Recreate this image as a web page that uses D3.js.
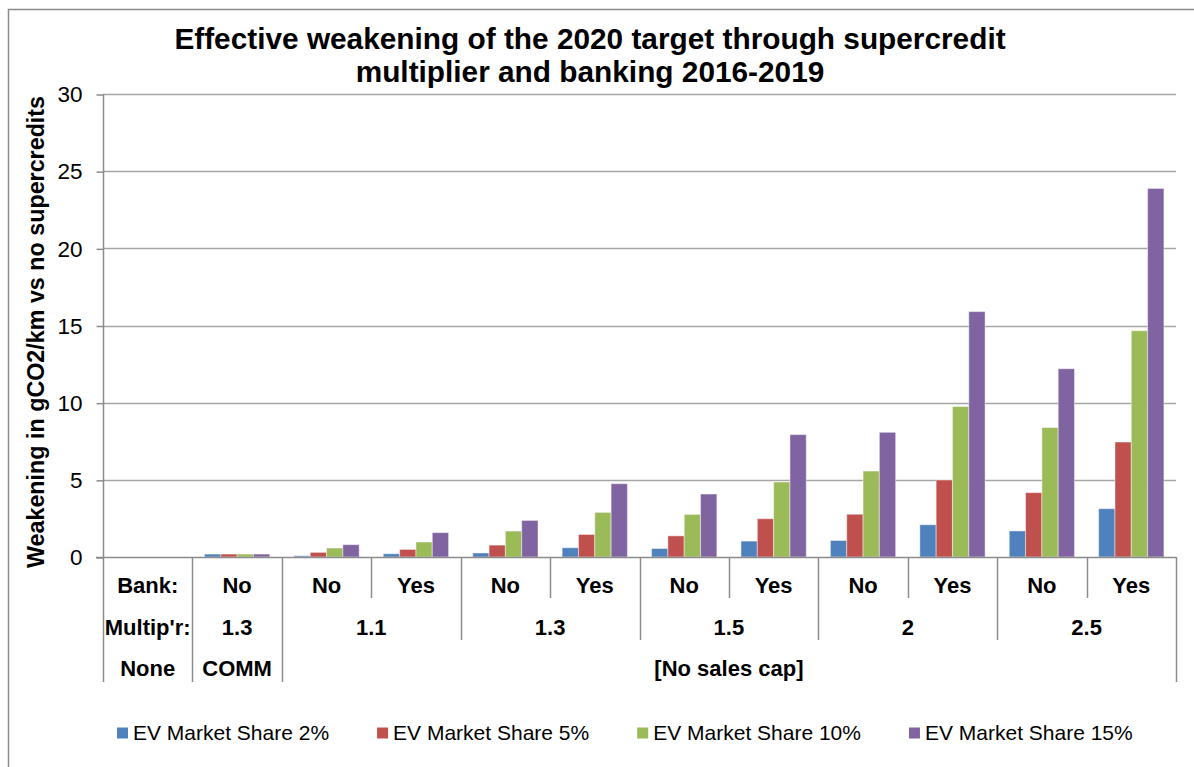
<!DOCTYPE html>
<html>
<head>
<meta charset="utf-8">
<script src="https://cdn.jsdelivr.net/npm/d3@7"></script>
<style>
  html, body { margin: 0; padding: 0; background: #fff; }
  svg { display: block; font-family: "Liberation Sans", Arial, sans-serif; }
</style>
</head>
<body>
<svg id="chart" width="1194" height="767"></svg>
<script>
// Category label tiers (innermost first)
const bankRow = ["Bank:", "No", "No", "Yes", "No", "Yes", "No", "Yes", "No", "Yes", "No", "Yes"];
const multRow = ["Multip'r:", "1.3", "1.1", "1.1", "1.3", "1.3", "1.5", "1.5", "2", "2", "2.5", "2.5"];
const capRow  = ["None", "COMM", "[No sales cap]", "[No sales cap]", "[No sales cap]", "[No sales cap]",
                 "[No sales cap]", "[No sales cap]", "[No sales cap]", "[No sales cap]", "[No sales cap]", "[No sales cap]"];

// Weakening (gCO2/km) per scenario for each EV market share
const share2  = [0, 0.19, 0.08, 0.21, 0.26, 0.60, 0.55, 1.03, 1.07, 2.09, 1.69, 3.13];
const share5  = [0, 0.19, 0.30, 0.49, 0.77, 1.46, 1.37, 2.48, 2.77, 4.99, 4.17, 7.45];
const share10 = [0, 0.19, 0.58, 0.97, 1.68, 2.89, 2.76, 4.86, 5.57, 9.75, 8.39, 14.66];
const share15 = [0, 0.19, 0.80, 1.58, 2.37, 4.75, 4.08, 7.93, 8.08, 15.90, 12.20, 23.88];

const seriesNames = ["EV Market Share 2%", "EV Market Share 5%", "EV Market Share 10%", "EV Market Share 15%"];
const seriesColors = ["#4F81BD", "#C0504D", "#9BBB59", "#8064A2"];
const yTicks = [0, 5, 10, 15, 20, 25, 30];

const titleLines = ["Effective weakening of the 2020 target through supercredit",
                    "multiplier and banking 2016-2019"];
const yTitle = "Weakening in gCO2/km vs no supercredits";

const seriesValues = [share2, share5, share10, share15];
const catIds = bankRow.map((_, i) => i);

const svg = d3.select("#chart");
const plot = { left: 103, right: 1176, top: 94, bottom: 557 };
const gridColor = "#A6A6A6";
const axisColor = "#8C8C8C";

// Outer chart frame
svg.append("rect")
  .attr("x", 8.5).attr("y", 9.5)
  .attr("width", 1220).attr("height", 800)
  .attr("fill", "none").attr("stroke", "#8C8C8C").attr("stroke-width", 1.5);

// Title
svg.append("g").selectAll("text").data(titleLines).join("text")
  .attr("x", 590).attr("y", (d, i) => 49 + i * 33)
  .attr("text-anchor", "middle")
  .attr("font-size", 29.8).attr("font-weight", "bold").attr("fill", "#000")
  .text(d => d);

const y = d3.scaleLinear().domain([0, 30]).range([plot.bottom, plot.top]);
const x0 = d3.scaleBand().domain(catIds).range([plot.left, plot.right]).paddingInner(0).paddingOuter(0);
const x1 = d3.scaleBand().domain(d3.range(seriesValues.length)).range([0, x0.bandwidth()])
  .paddingInner(0).paddingOuter(0.74);

// Gridlines
svg.append("g").selectAll("line").data(yTicks.filter(t => t > 0)).join("line")
  .attr("x1", plot.left).attr("x2", plot.right)
  .attr("y1", d => Math.round(y(d)) + 0.5).attr("y2", d => Math.round(y(d)) + 0.5)
  .attr("stroke", gridColor).attr("stroke-width", 1.5);

// Y axis
const yAxis = d3.axisLeft(y).tickValues(yTicks).tickSize(7).tickPadding(14).tickFormat(d3.format("d"));
const yAxisG = svg.append("g").attr("transform", `translate(${plot.left + 0.5},0.5)`).call(yAxis);
yAxisG.select(".domain").remove();
yAxisG.selectAll(".tick line").attr("stroke", axisColor).attr("stroke-width", 1.5);
yAxisG.selectAll(".tick text")
  .attr("font-size", 22.5).attr("fill", "#000")
  .attr("font-family", "Liberation Sans, Arial, sans-serif");

// Y axis title
svg.append("text")
  .attr("transform", "translate(44,332) rotate(-90)")
  .attr("text-anchor", "middle")
  .attr("font-size", 23.3).attr("font-weight", "bold").attr("fill", "#000")
  .text(yTitle);

// Bars
const groups = svg.append("g").selectAll("g").data(catIds).join("g")
  .attr("transform", d => `translate(${x0(d)},0)`);
groups.selectAll("rect")
  .data(ci => seriesValues.map((vals, si) => ({ si, v: vals[ci] })))
  .join("rect")
  .attr("x", d => x1(d.si))
  .attr("width", x1.bandwidth())
  .attr("y", d => y(d.v))
  .attr("height", d => y(0) - y(d.v))
  .attr("fill", d => seriesColors[d.si])
  .attr("stroke", "rgba(255,255,255,0.45)")
  .attr("stroke-width", d => d.v > 0 ? 1 : 0);

// Multi-level category axis
const tiers = [
  { labels: bankRow, merge: false, y: 585, bottom: 598 },
  { labels: multRow, merge: true,  y: 627, bottom: 640 },
  { labels: capRow,  merge: true,  y: 668, bottom: 682 }
];

function spans(labels, merge) {
  const out = [];
  labels.forEach((lab, i) => {
    const last = out[out.length - 1];
    if (merge && last && last.label === lab) last.end = i;
    else out.push({ label: lab, start: i, end: i });
  });
  return out;
}

// Boundary line depth: the deepest tier that has a span edge at that boundary
const boundaryDepth = new Map();
tiers.forEach(t => {
  spans(t.labels, t.merge).forEach(s => {
    [s.start, s.end + 1].forEach(b => {
      boundaryDepth.set(b, Math.max(boundaryDepth.get(b) || 0, t.bottom));
    });
  });
});
const xb = b => b < catIds.length ? x0(b) : plot.right;

const catAxis = svg.append("g");
catAxis.selectAll("line.bound").data(Array.from(boundaryDepth.entries())).join("line")
  .attr("class", "bound")
  .attr("x1", d => Math.round(xb(d[0])) + 0.5).attr("x2", d => Math.round(xb(d[0])) + 0.5)
  .attr("y1", plot.bottom).attr("y2", d => d[1])
  .attr("stroke", axisColor).attr("stroke-width", 1.5);

tiers.forEach(t => {
  catAxis.append("g").selectAll("text").data(spans(t.labels, t.merge)).join("text")
    .attr("x", s => (xb(s.start) + xb(s.end + 1)) / 2)
    .attr("y", t.y).attr("dy", "0.35em")
    .attr("text-anchor", "middle")
    .attr("font-size", 22).attr("font-weight", "bold").attr("fill", "#000")
    .text(s => s.label);
});

// Y axis line and horizontal axis line
svg.append("line")
  .attr("x1", plot.left + 0.5).attr("x2", plot.left + 0.5)
  .attr("y1", plot.top).attr("y2", plot.bottom)
  .attr("stroke", axisColor).attr("stroke-width", 1.5);
svg.append("line")
  .attr("x1", plot.left - 7).attr("x2", plot.right)
  .attr("y1", plot.bottom + 0.5).attr("y2", plot.bottom + 0.5)
  .attr("stroke", axisColor).attr("stroke-width", 1.5);

// Legend
const legend = svg.append("g").attr("transform", "translate(117,733)");
let lx = 0;
seriesNames.forEach((name, i) => {
  const g = legend.append("g").attr("transform", `translate(${lx},0)`);
  g.append("rect").attr("x", 0).attr("y", -5.5).attr("width", 11).attr("height", 11)
    .attr("fill", seriesColors[i]);
  const t = g.append("text").attr("x", 16).attr("y", 0).attr("dy", "0.35em")
    .attr("font-size", 21).attr("fill", "#000").text(name);
  lx += 16 + t.node().getComputedTextLength() + 48;
});
</script>
</body>
</html>
